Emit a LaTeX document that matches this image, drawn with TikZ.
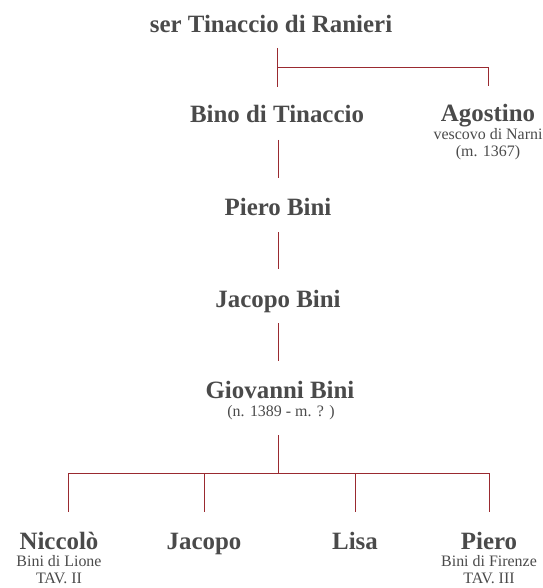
\documentclass[tikz,border=0pt]{standalone}
\usepackage{fontspec}
\setmainfont{Liberation Serif}
\usetikzlibrary{calc}
\definecolor{txt}{HTML}{4A4A4A}
\definecolor{lin}{HTML}{9A2A30}
\begin{document}
\begin{tikzpicture}[x=1bp,y=-1bp,
  person/.style={font=\fontsize{25}{28}\selectfont\bfseries, text=txt, anchor=base, inner sep=0pt},
  note/.style={font=\fontsize{16}{18}\selectfont, text=txt, anchor=base, inner sep=0pt},
  link/.style={draw=lin, line width=1bp}]
\useasboundingbox (0,0) rectangle (543,588);
\node[person] (ser) at (271,33) {ser Tinaccio di Ranieri};
\node[person] (bino) at (277,123) {Bino di Tinaccio};
\node[person] (ago) at (488,122) {Agostino};
\node[note] (ago1) at (488,140) {vescovo di Narni};
\node[note] (ago2) at (488,157) {(m. 1367)};
\node[person] (piero) at (278,215) {Piero Bini};
\node[person] (jacb) at (278,307) {Jacopo Bini};
\node[person] (gio) at (280,398) {Giovanni Bini};
\node[note] (gio1) at (281,416) {(n. 1389 - m. ? )};
\node[person] (nic) at (59,549) {Niccolò};
\node[note] (nic1) at (59,566) {Bini di Lione};
\node[note] (nic2) at (59,583) {TAV. II};
\node[person] (jac) at (204,549) {Jacopo};
\node[person] (lisa) at (355,549) {Lisa};
\node[person] (pie) at (489,549) {Piero};
\node[note] (pie1) at (489,566) {Bini di Firenze};
\node[note] (pie2) at (489,583) {TAV. III};
% connectors
\coordinate (f1) at ($(ser.base -| bino.base)+(0,35)$);
\draw[link] ($(ser.base -| bino.base)+(0,15)$) -- ($(bino.base)+(0,-36)$);
\draw[link] (f1) -| ($(ago.base)+(0,-36)$);
\draw[link] ($(bino.base -| piero.base)+(0,17)$) -- ($(piero.base)+(0,-37)$);
\draw[link] ($(piero.base)+(0,17)$) -- ($(jacb.base)+(0,-38)$);
\draw[link] ($(jacb.base)+(0,16)$) -- ($(jacb.base |- gio.base)+(0,-37)$);
\coordinate (f2) at ($(jacb.base |- gio1.base)+(0,57)$);
\draw[link] ($(jacb.base |- gio1.base)+(0,19)$) -- (f2);
\draw[link] (f2) -| ($(nic.base)+(9,-37)$);
\draw[link] (f2) -| ($(jac.base)+(0,-37)$);
\draw[link] (f2) -| ($(lisa.base)+(0,-37)$);
\draw[link] (f2) -| ($(pie.base)+(0,-37)$);
\end{tikzpicture}
\end{document}
